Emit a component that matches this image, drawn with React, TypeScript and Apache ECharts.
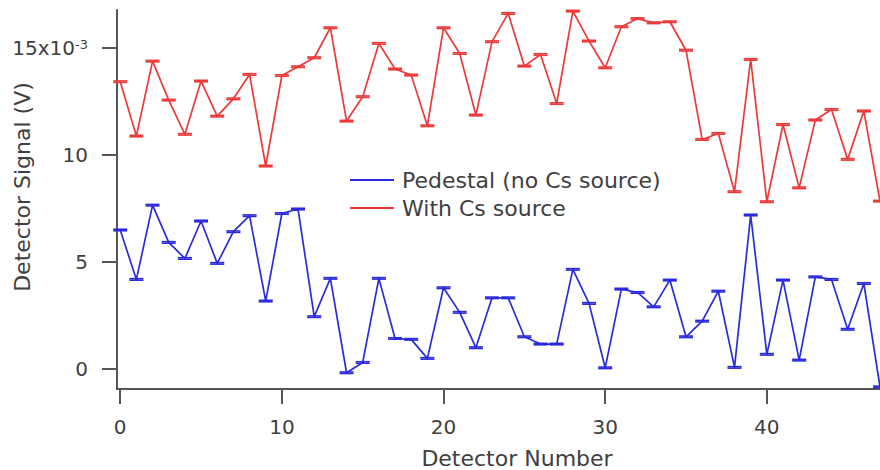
import React, { useEffect, useRef } from "react";
import * as echarts from "echarts";

// Detector index 0..47
const detectorNumbers = [
  0, 1, 2, 3, 4, 5, 6, 7, 8, 9, 10, 11, 12, 13, 14, 15, 16, 17, 18, 19, 20, 21, 22, 23,
  24, 25, 26, 27, 28, 29, 30, 31, 32, 33, 34, 35, 36, 37, 38, 39, 40, 41, 42, 43, 44, 45, 46, 47,
];

// Signal in units of 1e-3 V
const pedestal = [
  6.5, 4.19, 7.66, 5.92, 5.17, 6.92, 4.94, 6.42, 7.17, 3.18,
  7.27, 7.48, 2.45, 4.24, -0.17, 0.31, 4.24, 1.43, 1.39, 0.5,
  3.8, 2.65, 1.0, 3.33, 3.33, 1.51, 1.17, 1.17, 4.66, 3.07,
  0.06, 3.74, 3.58, 2.91, 4.16, 1.51, 2.24, 3.64, 0.08, 7.2,
  0.69, 4.16, 0.42, 4.31, 4.19, 1.86, 4.0, -0.83,
];

const withCs = [
  13.43, 10.89, 14.39, 12.57, 10.97, 13.46, 11.82, 12.63, 13.77, 9.49,
  13.72, 14.13, 14.55, 15.95, 11.59, 12.73, 15.22, 14.02, 13.74, 11.37,
  15.95, 14.75, 11.87, 15.3, 16.62, 14.16, 14.7, 12.41, 16.73, 15.33,
  14.08, 16.0, 16.38, 16.18, 16.23, 14.9, 10.73, 11.01, 8.29, 14.47,
  7.82, 11.43, 8.47, 11.64, 12.13, 9.8, 12.06, 7.85,
];

const errorHalfWidth = 0.035; // error bar half-size, 1e-3 V

const xTicks = [0, 10, 20, 30, 40];
const yTicks = [0, 5, 10, 15];

const seriesNames = ["Pedestal (no Cs source)", "With Cs source"];
const BLUE = "#2b2bdc";
const RED = "#ec3a3a";
const TEXT = "#404040";
const AXIS = "#555555";
const FONT = "'DejaVu Sans', sans-serif";

function errorBars(values: number[], color: string, name: string) {
  return {
    type: "custom",
    name: name + " err",
    data: values.map((v, i) => [detectorNumbers[i], v]),
    encode: { x: 0, y: 1 },
    silent: true,
    z: 3,
    renderItem: (_params: any, api: any) => {
      const x = api.value(0);
      const y = api.value(1);
      const top = api.coord([x, y + errorHalfWidth]);
      const bot = api.coord([x, y - errorHalfWidth]);
      const hw = 7;
      const st = { stroke: color, lineWidth: 1.6 };
      return {
        type: "group",
        children: [
          { type: "line", shape: { x1: top[0] - hw, y1: top[1], x2: top[0] + hw, y2: top[1] }, style: st },
          { type: "line", shape: { x1: bot[0] - hw, y1: bot[1], x2: bot[0] + hw, y2: bot[1] }, style: st },
          { type: "line", shape: { x1: top[0], y1: top[1], x2: bot[0], y2: bot[1] }, style: st },
        ],
      };
    },
  };
}

export default function App() {
  const ref = useRef<HTMLDivElement>(null);
  useEffect(() => {
    if (!ref.current) return;
    const chart = echarts.init(ref.current, null, { renderer: "svg" });
    chart.setOption({
      animation: false,
      backgroundColor: "#ffffff",
      textStyle: { fontFamily: FONT },
      grid: { left: 117, right: 0, top: 10, bottom: 81, containLabel: false, outerBoundsMode: "none" },
      legend: {
        data: seriesNames,
        orient: "vertical",
        left: 345,
        top: 164,
        itemWidth: 44,
        itemHeight: 2,
        itemGap: 6,
        icon: "rect",
        textStyle: { fontFamily: FONT, fontSize: 22, color: TEXT, padding: [0, 0, 0, 3] },
      },
      xAxis: {
        type: "value",
        min: -0.2,
        max: 47,
        splitLine: { show: false },
        axisLine: { onZero: false, lineStyle: { color: AXIS, width: 2 } },
        axisTick: { show: true, length: 15, customValues: xTicks, lineStyle: { color: AXIS, width: 2 } },
        axisLabel: { customValues: xTicks, margin: 28, fontSize: 20, fontFamily: FONT, color: TEXT },
      },
      yAxis: {
        type: "value",
        min: -0.93,
        max: 16.78,
        splitLine: { show: false },
        axisLine: { show: true, onZero: false, lineStyle: { color: AXIS, width: 2 } },
        axisTick: { show: true, length: 15, customValues: yTicks, lineStyle: { color: AXIS, width: 2 } },
        axisLabel: {
          customValues: yTicks,
          margin: 29,
          fontSize: 20,
          fontFamily: FONT,
          color: TEXT,
          formatter: (v: number) => (v === 15 ? "{n|15x10}{sup|-3}" : "{n|" + v + "}"),
          rich: {
            n: { fontSize: 20, fontFamily: FONT, color: TEXT, verticalAlign: "top" },
            sup: { fontSize: 13, fontFamily: FONT, color: TEXT, verticalAlign: "top" },
          },
        },
      },
      graphic: [
        {
          type: "text",
          x: 517,
          y: 458,
          style: {
            text: "Detector Number",
            font: "22px 'DejaVu Sans', sans-serif",
            fill: TEXT,
            align: "center",
            verticalAlign: "middle",
            textAlign: "center",
            textVerticalAlign: "middle",
          },
        },
        {
          type: "text",
          x: 22,
          y: 187,
          rotation: Math.PI / 2,
          style: {
            text: "Detector Signal (V)",
            font: "22px 'DejaVu Sans', sans-serif",
            fill: TEXT,
            align: "center",
            verticalAlign: "middle",
            textAlign: "center",
            textVerticalAlign: "middle",
          },
        },
      ],
      series: [
        {
          type: "line",
          name: seriesNames[0],
          data: pedestal.map((v, i) => [detectorNumbers[i], v]),
          showSymbol: false,
          color: BLUE,
          lineStyle: { color: BLUE, width: 1.7 },
          z: 2,
        },
        {
          type: "line",
          name: seriesNames[1],
          data: withCs.map((v, i) => [detectorNumbers[i], v]),
          showSymbol: false,
          color: RED,
          lineStyle: { color: RED, width: 1.7 },
          z: 2,
        },
        errorBars(pedestal, BLUE, seriesNames[0]),
        errorBars(withCs, RED, seriesNames[1]),
      ],
    });
    return () => chart.dispose();
  }, []);
  return (
    <div
      ref={ref}
      style={{ position: "absolute", left: 0, top: 0, width: 880, height: 470 }}
    />
  );
}
